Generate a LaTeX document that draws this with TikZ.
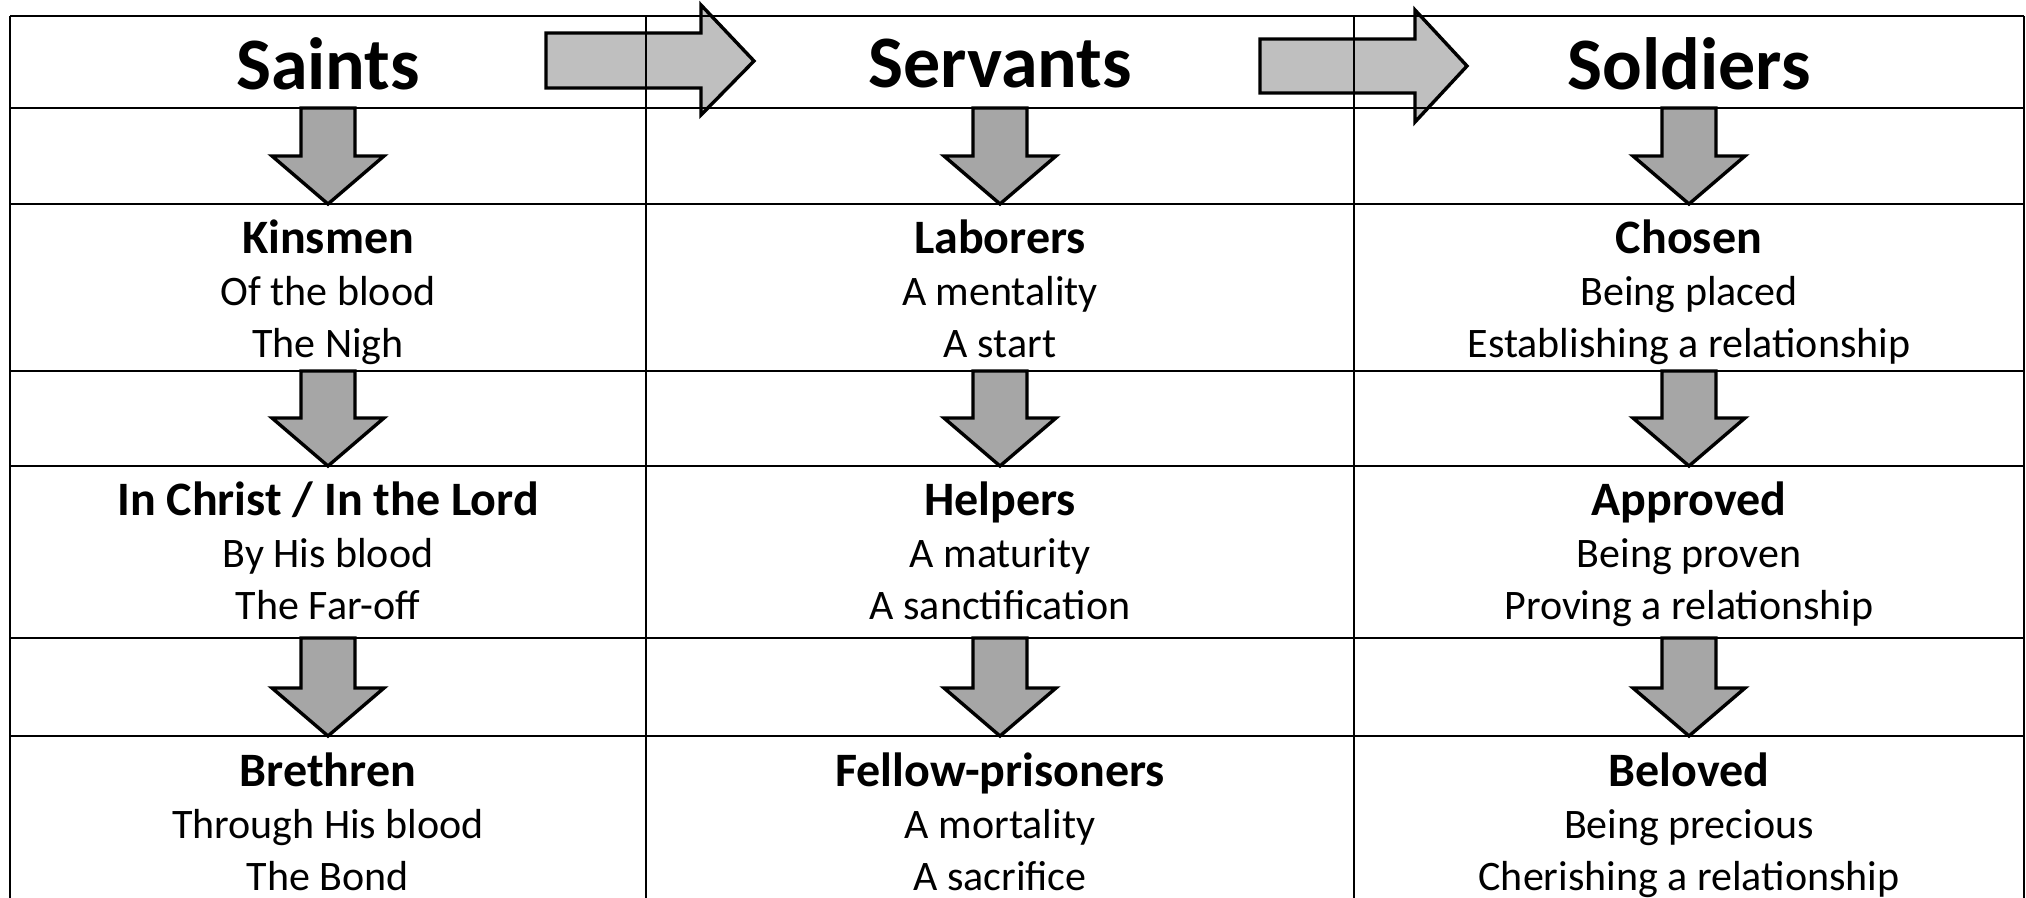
\documentclass[tikz,border=0pt]{standalone}
\usepackage{fontspec}
\setmainfont{Carlito}
\definecolor{lightgrey}{RGB}{191,191,191}
\definecolor{midgrey}{RGB}{166,166,166}
\newcommand*{\headfont}{\bfseries\fontsize{37}{40}\selectfont}
\newcommand*{\termfont}{\bfseries\fontsize{24}{26}\selectfont}
\newcommand*{\bodyfont}{\fontsize{21}{26}\selectfont}
\tikzstyle{grid}=[black, line width=1pt]
\tikzstyle{rightarrow}=[draw=black, line width=1.7pt, fill=lightgrey, line join=miter]
\tikzstyle{downarrow}=[draw=black, line width=1.7pt, fill=midgrey, line join=miter]
\tikzstyle{head}=[inner sep=0pt, outer sep=0pt, anchor=center, font=\headfont]
\tikzstyle{term}=[inner sep=0pt, outer sep=0pt, anchor=base, font=\termfont]
\tikzstyle{body}=[inner sep=0pt, outer sep=0pt, anchor=base, font=\bodyfont]
% block arrow pointing down: centre x, top y, bottom y
\newcommand*{\downarrowat}[3]{%
    \draw[downarrow] (#1-27,#2) -- (#1+27,#2) -- (#1+27,#3-48) -- (#1+56,#3-48)
        -- (#1,#3) -- (#1-56,#3-48) -- (#1-27,#3-48) -- cycle;}

\begin{document}
\begin{tikzpicture}[x=0.5pt, y=-0.5pt]
    \useasboundingbox (0,0) rectangle (2026,898);
    % arrows between the headings
    \draw[rightarrow] (546,33) -- (701,33) -- (701,5) -- (754,61) -- (701,115)
        -- (701,88) -- (546,88) -- cycle;
    \draw[rightarrow] (1260,39) -- (1415,39) -- (1415,10) -- (1467,66) -- (1415,122)
        -- (1415,93) -- (1260,93) -- cycle;
    % table
    \draw[grid] (10,16) -- (2024,16);
    \draw[grid] (10,108) -- (2024,108);
    \draw[grid] (10,204) -- (2024,204);
    \draw[grid] (10,371) -- (2024,371);
    \draw[grid] (10,466) -- (2024,466);
    \draw[grid] (10,638) -- (2024,638);
    \draw[grid] (10,736) -- (2024,736);
    \draw[grid] (10,16) -- (10,898);
    \draw[grid] (646,16) -- (646,898);
    \draw[grid] (1354,16) -- (1354,898);
    \draw[grid] (2024,16) -- (2024,898);
    % arrows down the columns
    \downarrowat{328}{108}{204}
    \downarrowat{1000}{108}{204}
    \downarrowat{1689}{108}{204}
    \downarrowat{328}{371}{466}
    \downarrowat{1000}{371}{466}
    \downarrowat{1689}{371}{466}
    \downarrowat{328}{638}{736}
    \downarrowat{1000}{638}{736}
    \downarrowat{1689}{638}{736}
    % headings
    \node[head] (saints) at (328,64) {Saints};
    \node[head] (servants) at (1000,64) {Servants};
    \node[head] (soldiers) at (1689,64) {Soldiers};
    % first row
    \node[term] (kinsmen) at (328,254) {Kinsmen};
    \node[body] (kinsmen-a) at (328,306) {Of the blood};
    \node[body] (kinsmen-b) at (328,358) {The Nigh};
    \node[term] (laborers) at (1000,254) {Laborers};
    \node[body] (laborers-a) at (1000,306) {A mentality};
    \node[body] (laborers-b) at (1000,358) {A start};
    \node[term] (chosen) at (1689,254) {Chosen};
    \node[body] (chosen-a) at (1689,306) {Being placed};
    \node[body] (chosen-b) at (1689,358) {Establishing a relationship};
    % second row
    \node[term] (inchrist) at (328,516) {In Christ / In the Lord};
    \node[body] (inchrist-a) at (328,568) {By His blood};
    \node[body] (inchrist-b) at (328,620) {The Far-off};
    \node[term] (helpers) at (1000,516) {Helpers};
    \node[body] (helpers-a) at (1000,568) {A maturity};
    \node[body] (helpers-b) at (1000,620) {A sanctification};
    \node[term] (approved) at (1689,516) {Approved};
    \node[body] (approved-a) at (1689,568) {Being proven};
    \node[body] (approved-b) at (1689,620) {Proving a relationship};
    % third row
    \node[term] (brethren) at (328,786) {Brethren};
    \node[body] (brethren-a) at (328,838) {Through His blood};
    \node[body] (brethren-b) at (328,890) {The Bond};
    \node[term] (prisoners) at (1000,786) {Fellow-prisoners};
    \node[body] (prisoners-a) at (1000,838) {A mortality};
    \node[body] (prisoners-b) at (1000,890) {A sacrifice};
    \node[term] (beloved) at (1689,786) {Beloved};
    \node[body] (beloved-a) at (1689,838) {Being precious};
    \node[body] (beloved-b) at (1689,890) {Cherishing a relationship};
\end{tikzpicture}
\end{document}
